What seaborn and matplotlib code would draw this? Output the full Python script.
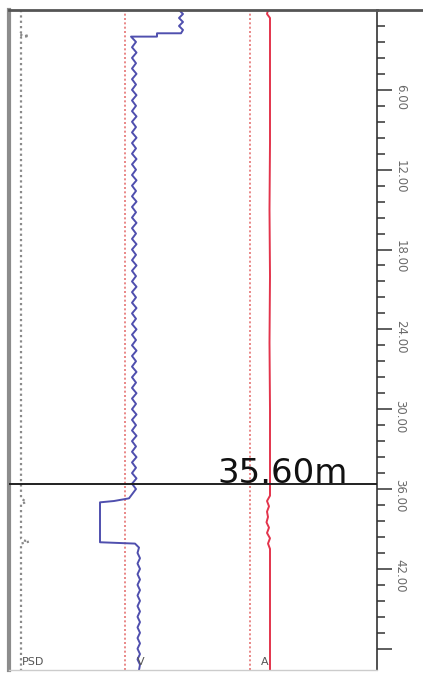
import numpy as np
import pandas as pd
import seaborn as sns
import matplotlib
matplotlib.use("Agg")
import matplotlib.pyplot as plt
from matplotlib.transforms import ScaledTranslation
from matplotlib.lines import Line2D

# ---------------- data ----------------
# V curve (blue): depth (m) and value
v_depth = [0.0, 0.3, 0.6, 0.9, 1.2, 1.5, 1.75, 1.75, 2.0, 2.0,
           2.4, 2.8, 3.2, 3.6, 4.0, 4.4, 4.8, 5.2, 5.6, 6.0, 6.4, 6.8, 7.2, 7.6, 8.0,
           8.4, 8.8, 9.2, 9.6, 10.0, 10.4, 10.8, 11.2, 11.6, 12.0, 12.4, 12.8, 13.2, 13.6,
           14.0, 14.4, 14.8, 15.2, 15.6, 16.0, 16.4, 16.8, 17.2, 17.6, 18.0, 18.4, 18.8,
           19.2, 19.6, 20.0, 20.4, 20.8, 21.2, 21.6, 22.0, 22.4, 22.8, 23.2, 23.6, 24.0,
           24.4, 24.8, 25.2, 25.6, 26.0, 26.4, 26.8, 27.2, 27.6, 28.0, 28.4, 28.8, 29.2,
           29.6, 30.0, 30.4, 30.8, 31.2, 31.6, 32.0, 32.4, 32.8, 33.2, 33.6, 34.0, 34.4,
           34.8, 35.2, 35.6, 36.0, 36.4, 36.7, 36.9, 37.0, 40.0, 40.1, 40.4,
           40.8, 41.2, 41.6, 42.0, 42.4, 42.8, 43.2, 43.6, 44.0, 44.4, 44.8, 45.2, 45.6,
           46.0, 46.4, 46.8, 47.2, 47.6, 48.0, 48.4, 48.8, 49.2, 49.6]
v_value = [170, 174, 170, 174, 170, 174, 172, 148, 148, 122,
           127, 123, 127.5, 123, 127, 123, 127.5, 123, 127, 123, 127.5, 123, 127, 123, 127.5,
           123, 127, 123, 127.5, 123, 127, 123, 127.5, 123, 127, 123, 127.5, 123, 127,
           123, 127.5, 123, 127, 123, 127.5, 123, 127, 123, 127.5, 123, 127, 123,
           127.5, 123, 127, 123, 127.5, 123, 127, 123, 127.5, 123, 127, 123, 127.5,
           123, 127, 123, 127.5, 123, 127, 123, 127.5, 123, 127, 123, 127.5, 123,
           127, 123, 127.5, 123, 127, 123, 127.5, 123, 127, 123, 127.5, 123, 127,
           123, 127.5, 123, 127, 123, 120, 105, 91, 91, 126, 130,
           128.5, 131, 128.5, 131, 128.5, 131, 128.5, 131, 128.5, 131, 128.5, 131, 128.5,
           131, 128.5, 131, 128.5, 131, 128.5, 131, 128.5, 131, 130]

# A curve (red solid)
a_depth = [0.0, 0.3, 0.6, 5.0, 10.0, 15.0, 20.0, 25.0, 30.0, 36.5, 36.9, 37.3, 37.7,
           38.1, 38.5, 38.9, 39.3, 39.7, 40.1, 40.5, 45.0, 49.6]
a_value = [259, 258, 261, 261, 261, 260.5, 261, 260.5, 261, 261, 258, 260, 258,
           259, 257.5, 260, 258, 261, 259, 261, 261, 261]

# PSD curve (grey dotted)
psd_depth = [0.0, 1.7, 1.85, 1.95, 2.05, 36.7, 36.85, 37.0, 37.1, 39.7, 39.85, 39.95, 40.1, 49.6]
psd_value = [12, 12, 10, 20, 12, 12, 15, 17, 12, 12, 14, 20, 12, 12]

ref_lines = [116, 241]          # red dotted reference lines
marker_depth = 35.6
marker_label = "35.60m"
major_ticks = [6, 12, 18, 24, 30, 36, 42, 48]
major_labels = ["6.00", "12.00", "18.00", "24.00", "30.00", "36.00", "42.00", ""]
minor_ticks = [1.2, 2.4, 3.6, 4.8, 7.2, 8.4, 9.6, 10.8, 13.2, 14.4, 15.6, 16.8,
               19.2, 20.4, 21.6, 22.8, 25.2, 26.4, 27.6, 28.8, 31.2, 32.4, 33.6, 34.8,
               37.2, 38.4, 39.6, 40.8, 43.2, 44.4, 45.6, 46.8]
curve_names = ["PSD", "V", "A"]

# ---------------- plot ----------------
sns.set_style("white")
W, H = 423, 673
fig = plt.figure(figsize=(W / 100, H / 100), dpi=100)
ax = fig.add_axes([9 / W, 3 / H, (377 - 9) / W, (670 - 10) / H])

v_df = pd.DataFrame({"depth": v_depth, "value": v_value})
a_df = pd.DataFrame({"depth": a_depth, "value": a_value})
p_df = pd.DataFrame({"depth": psd_depth, "value": psd_value})

for xv in ref_lines:
    ax.axvline(xv, color="#e57373", lw=1.2, ls=(0, (1.2, 1.4)), zorder=1)

sns.lineplot(data=p_df, x="value", y="depth", orient="y", sort=False, estimator=None,
             color="#8a8a8a", lw=1.6, ls=(0, (1, 1.4)), ax=ax)
sns.lineplot(data=v_df, x="value", y="depth", orient="y", sort=False, estimator=None,
             color="#4f4fae", lw=1.4, ax=ax)
sns.lineplot(data=a_df, x="value", y="depth", orient="y", sort=False, estimator=None,
             color="#e3344c", lw=1.4, ax=ax)

ax.axhline(marker_depth, color="#202020", lw=1.4, zorder=5)
ax.text(208, marker_depth - 0.05, marker_label, fontsize=24.5, color="#111111",
        ha="left", va="baseline", zorder=6)

ax.set_xlim(0, 368)
ax.set_ylim(49.6, 0)
ax.set_xlabel("")
ax.set_ylabel("")
ax.set_xticks([])

ax.yaxis.tick_right()
ax.set_yticks(major_ticks)
ax.set_yticklabels(major_labels, rotation=-90, fontsize=8.5, color="#6a6a6a",
                   va="center", ha="left")
ax.set_yticks(minor_ticks, minor=True)
ax.tick_params(axis="y", which="major", right=True, left=False, length=11, width=1.1,
               color="#333333", pad=1)
ax.tick_params(axis="y", which="minor", right=True, left=False, length=6, width=1.1,
               color="#333333")
off = ScaledTranslation(0, -5 / 72, fig.dpi_scale_trans)
for lab in ax.get_yticklabels():
    lab.set_transform(lab.get_transform() + off)

for s in ["top", "right", "left", "bottom"]:
    ax.spines[s].set_visible(True)
ax.spines["top"].set_color("#555555")
ax.spines["top"].set_linewidth(2)
ax.spines["right"].set_color("#333333")
ax.spines["right"].set_linewidth(1.2)
ax.spines["left"].set_color("#8c8c8c")
ax.spines["left"].set_linewidth(3)
ax.spines["bottom"].set_color("#cccccc")
ax.spines["bottom"].set_linewidth(1)

# top border continues to the figure edge
fig.add_artist(Line2D([377 / W, 1], [1 - 10 / H, 1 - 10 / H], color="#555555", lw=2,
                      transform=fig.transFigure))

# curve names at the bottom
name_x = [13, 128, 252]
for nm, xv in zip(curve_names, name_x):
    ax.text(xv, 49.0, nm, fontsize=8, color="#555555", ha="left", va="center", zorder=6)

fig.savefig("out.png", dpi=100)
